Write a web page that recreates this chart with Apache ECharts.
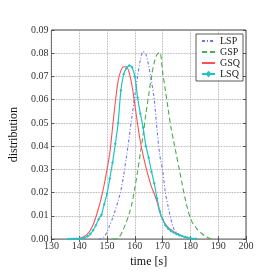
<!DOCTYPE html>
<html><head><meta charset="utf-8">
<script src="https://cdn.jsdelivr.net/npm/echarts@6/dist/echarts.min.js"></script>
<style>html,body{margin:0;padding:0;background:#fff}#c{width:273px;height:273px}</style>
</head><body><div id="c"></div>
<script>
const timeAxis = [];
for (let t = 136; t <= 188; t++) timeAxis.push(t);

const xTicks = [130, 140, 150, 160, 170, 180, 190, 200];
const yTicks = [0, 0.01, 0.02, 0.03, 0.04, 0.05, 0.06, 0.07, 0.08, 0.09];

// values at integer seconds, starting at the given time
const gsqStart = 137;
const gsq = [0.0000,0.0001,0.0002,0.0004,0.0007,0.0012,0.0022,0.0038,0.0062,0.0095,0.0135,0.0180,0.0235,0.0300,0.0370,0.0480,0.0590,0.0680,0.0725,0.0742,0.0742,0.0715,0.0660,0.0580,0.0495,0.0420,0.0360,0.0310,0.0265,0.0225,0.0195,0.0160,0.0115,0.0085,0.0065,0.0050,0.0040,0.0032,0.0025,0.0018,0.0013,0.0009,0.0006,0.0004,0.0002,0.0001];
const lsqStart = 136;
const lsq = [0.0000,0.0000,0.0001,0.0001,0.0002,0.0003,0.0006,0.0012,0.0022,0.0038,0.0060,0.0085,0.0105,0.0150,0.0195,0.0260,0.0330,0.0410,0.0500,0.0640,0.0710,0.0735,0.0747,0.0740,0.0700,0.0610,0.0540,0.0480,0.0400,0.0350,0.0290,0.0240,0.0175,0.0120,0.0085,0.0060,0.0045,0.0035,0.0028,0.0022,0.0017,0.0013,0.0009,0.0006,0.0004,0.0002,0.0001];
const lspStart = 147;
const lsp = [0.0000,0.0002,0.0010,0.0030,0.0060,0.0090,0.0125,0.0165,0.0210,0.0275,0.0355,0.0440,0.0530,0.0620,0.0700,0.0770,0.0808,0.0795,0.0745,0.0680,0.0600,0.0470,0.0360,0.0295,0.0200,0.0140,0.0085,0.0045,0.0028,0.0020,0.0014,0.0009,0.0005,0.0002];
const gspStart = 152;
const gsp = [0.0000,0.0000,0.0005,0.0020,0.0045,0.0075,0.0110,0.0155,0.0220,0.0290,0.0370,0.0450,0.0540,0.0620,0.0700,0.0760,0.0795,0.0803,0.0720,0.0640,0.0560,0.0480,0.0420,0.0360,0.0300,0.0240,0.0180,0.0130,0.0090,0.0065,0.0050,0.0035,0.0025,0.0015,0.0008,0.0003,0.0000];

function pairs(start, vals){ return vals.map((v,i)=>[start+i, v]); }

const font = 'Liberation Serif';
const chart = echarts.init(document.getElementById('c'), null, {renderer:'canvas'});
const tickStyle = {show:true, inside:true, length:3, lineStyle:{color:'#333', width:0.8}};
chart.setOption({
  animation:false,
  grid:{left:34, top:30, right:27, bottom:31, show:true, borderColor:'#444', borderWidth:1, backgroundColor:'transparent'},
  legend:{
    data:[
      {name:'LSP', itemStyle:{opacity:0}},
      {name:'GSP', itemStyle:{opacity:0}},
      {name:'GSQ', itemStyle:{opacity:0}},
      {name:'LSQ'}
    ],
    orient:'vertical', left:196, top:34,
    backgroundColor:'#fff', borderColor:'#333', borderWidth:0.8, borderRadius:0,
    padding:[2,3,2,5], itemGap:1, itemWidth:13, itemHeight:8,
    textStyle:{fontFamily:font, fontSize:10, color:'#222', lineHeight:10}
  },
  xAxis:[{
    type:'value', min:130, max:200, interval:10,
    name:'time [s]', nameLocation:'middle', nameGap:15,
    nameTextStyle:{fontFamily:font, fontSize:12, color:'#111'},
    axisLine:{show:false}, axisTick:tickStyle,
    axisLabel:{fontFamily:font, fontSize:10, color:'#333', margin:2},
    splitLine:{show:true, lineStyle:{color:'#999', type:'dotted', width:0.8}}
  },{
    type:'value', position:'top', min:130, max:200, interval:10,
    axisLine:{show:false}, axisTick:tickStyle, axisLabel:{show:false}, splitLine:{show:false}
  }],
  yAxis:[{
    type:'value', min:0, max:0.09, interval:0.01,
    name:'distribution', nameLocation:'middle', nameGap:26,
    nameTextStyle:{fontFamily:font, fontSize:12, color:'#111'},
    axisLine:{show:false}, axisTick:tickStyle,
    axisLabel:{fontFamily:font, fontSize:10, color:'#333', margin:3, formatter:v=>v.toFixed(2)},
    splitLine:{show:true, lineStyle:{color:'#999', type:'dotted', width:0.8}}
  },{
    type:'value', position:'right', min:0, max:0.09, interval:0.01,
    axisLine:{show:false}, axisTick:tickStyle, axisLabel:{show:false}, splitLine:{show:false}
  }],
  series:[
    {name:'LSP', type:'line', smooth:0.3, symbol:'none', data:pairs(lspStart, lsp),
     itemStyle:{color:'#7070ff'}, lineStyle:{color:'#7070ff', width:1.1, type:[3,2,1,2]}},
    {name:'GSP', type:'line', smooth:0.3, symbol:'none', data:pairs(gspStart, gsp),
     itemStyle:{color:'#4daa4d'}, lineStyle:{color:'#4daa4d', width:1.1, type:[5,3]}},
    {name:'GSQ', type:'line', smooth:0.3, symbol:'none', data:pairs(gsqStart, gsq),
     itemStyle:{color:'#ff5050'}, lineStyle:{color:'#ff5050', width:1.1}},
    {name:'LSQ', type:'line', smooth:0.3, symbol:'diamond', symbolSize:3, showSymbol:true, data:pairs(lsqStart, lsq),
     itemStyle:{color:'#20c4c4'}, lineStyle:{color:'#20c4c4', width:1.2}}
  ]
});
</script></body></html>
